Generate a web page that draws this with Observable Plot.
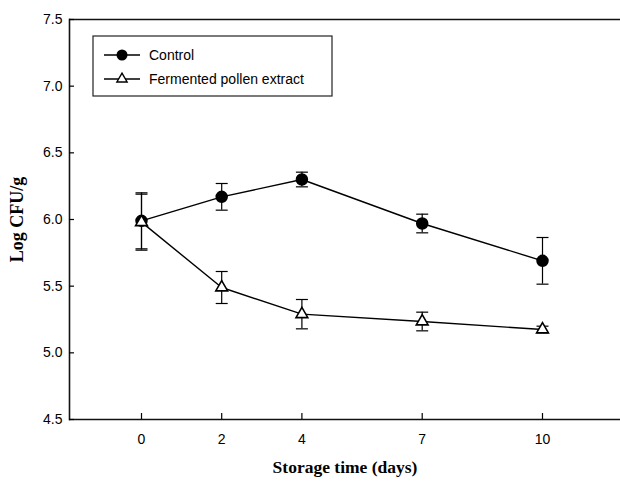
<!DOCTYPE html>
<html><head><meta charset="utf-8">
<script src="https://cdn.jsdelivr.net/npm/d3@7"></script>
<script src="https://cdn.jsdelivr.net/npm/@observablehq/plot@0.6"></script>
<style>
html,body{margin:0;padding:0;background:#fff;}
#chart svg{display:block;}
</style></head><body><div id="chart"></div>
<script>
// ---- data ----
const days = [0, 2, 4, 7, 10];
const seriesNames = ["Control", "Fermented pollen extract"];
const controlMean = [5.99, 6.17, 6.30, 5.97, 5.69];
const controlErr  = [0.21, 0.10, 0.055, 0.07, 0.175];
const fpeMean     = [5.98, 5.49, 5.29, 5.235, 5.175];
const fpeErr      = [0.21, 0.12, 0.11, 0.07, 0.025];
const yTicks = [4.5, 5.0, 5.5, 6.0, 6.5, 7.0, 7.5];
const xTicks = [0, 2, 4, 7, 10];
const yLabel = "Log CFU/g";
const xLabel = "Storage time (days)";

const build = (name, means, errs) => days.map((d, i) => ({
  series: name, day: d, mean: means[i], lo: means[i] - errs[i], hi: means[i] + errs[i]
}));
const controlRows = build(seriesNames[0], controlMean, controlErr);
const fpeRows = build(seriesNames[1], fpeMean, fpeErr);
const rows = controlRows.concat(fpeRows);

const capSymbol = {draw(ctx) { ctx.moveTo(-6, 0); ctx.lineTo(6, 0); }};
const serif = "'Liberation Serif', 'Times New Roman', serif";

const W = 620, H = 481;
const plot = Plot.plot({
  width: W, height: H,
  marginLeft: 69, marginRight: 0, marginTop: 19, marginBottom: 62,
  style: {fontFamily: "'Liberation Sans', Arial, sans-serif", fontSize: "14px", color: "#000", background: "#fff"},
  x: {domain: [0, 10], range: [141, 542]},
  y: {domain: [4.5, 7.5]},
  marks: [
    Plot.ruleY([4.5, 7.5], {stroke: "#111", strokeWidth: 1.6}),
    Plot.frame({anchor: "left", stroke: "#111", strokeWidth: 1.6}),
    Plot.axisY(yTicks, {tickSize: -5, tickPadding: 12, tickFormat: d => d.toFixed(1), fontSize: 14, label: null, strokeWidth: 1.2}),
    Plot.axisX(xTicks, {tickSize: -6, tickPadding: 21, fontSize: 14, label: null, strokeWidth: 1.2}),
    Plot.ruleX(rows, {x: "day", y1: "lo", y2: "hi", stroke: "#000", strokeWidth: 1.2}),
    Plot.dot(rows, {x: "day", y: "hi", symbol: capSymbol, stroke: "#000", strokeWidth: 1.2, fill: "none"}),
    Plot.dot(rows, {x: "day", y: "lo", symbol: capSymbol, stroke: "#000", strokeWidth: 1.2, fill: "none"}),
    Plot.line(rows, {x: "day", y: "mean", z: "series", stroke: "#000", strokeWidth: 1.4}),
    Plot.dot(controlRows, {x: "day", y: "mean", r: 5.5, fill: "#000", stroke: "#000"}),
    Plot.dot(fpeRows, {x: "day", y: "mean", symbol: "triangle", r: 4.4, fill: "#fff", stroke: "#000", strokeWidth: 1.6}),
    Plot.text([yLabel], {frameAnchor: "left", textAnchor: "middle", lineAnchor: "middle", dx: -52, rotate: -90, fontSize: 18, fontWeight: "bold", fontFamily: serif, fill: "#000", ariaLabel: "ylabel"}),
    Plot.text([xLabel], {frameAnchor: "bottom", textAnchor: "middle", lineAnchor: "middle", dy: 48, fontSize: 17.5, fontWeight: "bold", fontFamily: serif, fill: "#000"})
  ]
});
document.getElementById("chart").appendChild(plot);

const svg = d3.select(plot);
// stretch the y title along its length, like the reference
svg.selectAll('g[aria-label="ylabel"] text')
  .attr("textLength", 114).attr("lengthAdjust", "spacingAndGlyphs");

// legend
const lg = svg.append("g").attr("class", "legend").attr("text-anchor", "start");
lg.append("rect").attr("x", 93).attr("y", 36).attr("width", 239).attr("height", 60)
  .attr("fill", "#fff").attr("stroke", "#222").attr("stroke-width", 1.2);
const entries = [{name: seriesNames[0], y: 55, kind: "circle"}, {name: seriesNames[1], y: 79, kind: "triangle"}];
for (const e of entries) {
  lg.append("line").attr("x1", 104).attr("x2", 140).attr("y1", e.y).attr("y2", e.y).attr("stroke", "#000").attr("stroke-width", 1.4);
  if (e.kind === "circle") {
    lg.append("circle").attr("cx", 122).attr("cy", e.y).attr("r", 5.5).attr("fill", "#000");
  } else {
    lg.append("path").attr("transform", `translate(122,${e.y})`)
      .attr("d", d3.symbol(d3.symbolTriangle, 3.8 * 3.8 * Math.PI)())
      .attr("fill", "#fff").attr("stroke", "#000").attr("stroke-width", 1.4);
  }
  lg.append("text").attr("x", 149).attr("y", e.y).attr("dy", "0.35em")
    .attr("text-anchor", "start").attr("font-size", 14).attr("fill", "#000").text(e.name);
}
</script></body></html>
